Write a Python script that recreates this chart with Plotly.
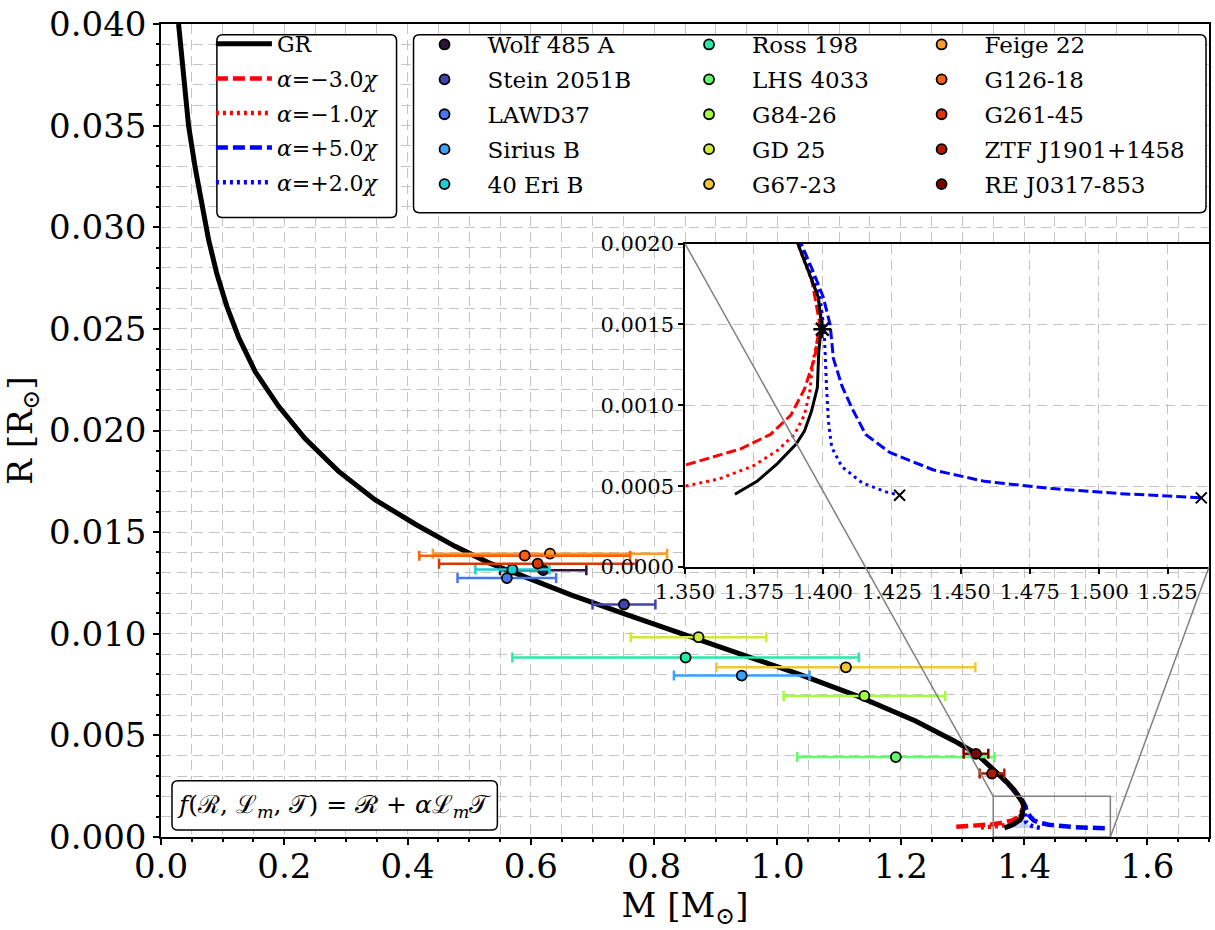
import plotly.graph_objects as go

# GR mass-radius curve (M in solar masses, R in solar radii)
gr_mass = [0.0285, 0.0366, 0.0447, 0.0556, 0.0664, 0.0771, 0.0907, 0.1069, 0.1257, 0.1527,
           0.1905, 0.2337, 0.2876, 0.347, 0.412, 0.477, 0.531, 0.573, 0.666, 0.759,
           0.852, 0.945, 1.038, 1.131, 1.224, 1.286, 1.323, 1.359, 1.372, 1.383,
           1.3909, 1.3946, 1.3983, 1.3995, 1.3985, 1.398, 1.3958, 1.3933, 1.3903, 1.3835,
           1.3761, 1.3681]
gr_radius = [0.0400, 0.0372, 0.0350, 0.0329, 0.0310, 0.0294, 0.0277, 0.0261, 0.0246, 0.0229,
             0.0212, 0.0196, 0.0180, 0.0166, 0.0154, 0.0143, 0.0135, 0.0130, 0.0119, 0.0109,
             0.0099, 0.00895, 0.00798, 0.00692, 0.00571, 0.00474, 0.00409, 0.00312, 0.0027, 0.00235,
             0.0020, 0.00183, 0.00167, 0.00150, 0.00133, 0.00111, 0.00096, 0.00084, 0.00076, 0.00064,
             0.00053, 0.00045]

# alpha = -3.0 chi
m_neg3 = [1.29, 1.32, 1.35, 1.370, 1.381, 1.3884, 1.3933, 1.397, 1.3989, 1.3976, 1.3958, 1.3909, 1.383, 1.372, 1.359]
r_neg3 = [0.0005, 0.00055, 0.00063, 0.00073, 0.00082, 0.00094, 0.0011, 0.00129, 0.0015, 0.00163, 0.00179, 0.0020, 0.00235, 0.0027, 0.00312]

# alpha = -1.0 chi
m_neg1 = [1.33, 1.35, 1.3626, 1.3749, 1.3835, 1.3897, 1.3933, 1.3952, 1.3964, 1.3983, 1.3995, 1.3983, 1.3946, 1.3909, 1.383, 1.372, 1.359]
r_neg1 = [0.00047, 0.0005, 0.000546, 0.000627, 0.00072, 0.00082, 0.00094, 0.00108, 0.00127, 0.00143, 0.0015, 0.00167, 0.00183, 0.0020, 0.00235, 0.0027, 0.00312]

# alpha = +5.0 chi
m_pos5 = [1.359, 1.372, 1.383, 1.3921, 1.3964, 1.4001, 1.4026, 1.4038, 1.4069, 1.4106, 1.4155, 1.4241, 1.4401, 1.4586, 1.4833, 1.5079, 1.5372]
r_pos5 = [0.00312, 0.0027, 0.00235, 0.0020, 0.00183, 0.00167, 0.0015, 0.00129, 0.00112, 0.00098, 0.00082, 0.00071, 0.0006, 0.00053, 0.000485, 0.000454, 0.000428]

# alpha = +2.0 chi
m_pos2 = [1.359, 1.372, 1.383, 1.3915, 1.3955, 1.3990, 1.4005, 1.4007, 1.4013, 1.402, 1.4032, 1.4069, 1.4143, 1.4229, 1.4278]
r_pos2 = [0.00312, 0.0027, 0.00235, 0.0020, 0.00183, 0.00167, 0.00145, 0.00133, 0.00112, 0.0009, 0.00074, 0.00062, 0.00052, 0.000465, 0.000444]

# maximum-mass markers
gr_max = (1.3998, 0.00147)
end_mass = [1.4278, 1.5372]
end_radius = [0.000444, 0.000428]

# observed white dwarfs
star_names = ["Wolf 485 A", "Stein 2051B", "LAWD37", "Sirius B", "40 Eri B",
              "Ross 198", "LHS 4033", "G84-26", "GD 25", "G67-23",
              "Feige 22", "G126-18", "G261-45", "ZTF J1901+1458", "RE J0317-853"]
star_mass = [0.620, 0.751, 0.561, 0.942, 0.570,
             0.851, 1.192, 1.141, 0.872, 1.111,
             0.631, 0.590, 0.611, 1.348, 1.322]
star_radius = [0.01313, 0.01144, 0.01274, 0.00794, 0.01316,
               0.00883, 0.00393, 0.00694, 0.00983, 0.00835,
               0.01394, 0.01384, 0.01345, 0.00312, 0.00409]
star_mass_err = [0.07, 0.051, 0.08, 0.11, 0.06,
                 0.281, 0.16, 0.131, 0.11, 0.21,
                 0.19, 0.171, 0.16, 0.02, 0.02]

turbo = ['#30123b', '#4145ab', '#4675ed', '#39a2fc', '#1bcfd4', '#24eca6', '#61fc6c', '#a4fc3b',
         '#d1e834', '#f3c63a', '#fe9b2d', '#f36315', '#d93806', '#b11901', '#7a0403']

FONT = "DejaVu Serif"
W, H = 1215, 930
# plot area in page pixels
PL, PR, PT, PB = 161, 1211, 14, 837
ML, MT, MR, MB = PL, PT, W - PR, H - PB
PW, PH = PR - PL, PB - PT

main_x = [0, 1.7]
main_y = [0, 0.0400001]
inset_x = [1.35, 1.54]
inset_y = [0, 0.0020000001]
inset_dom_x = [0.5, 1.0]
inset_dom_y = [0.332, 0.730]


def px2paper(X, Y):
    return (X - PL) / PW, (PB - Y) / PH


def rounded_box(X0, Y0, X1, Y1, r=6):
    def p(X, Y):
        a, b = px2paper(X, Y)
        return f"{a:.5f},{b:.5f}"
    path = (f"M{p(X0 + r, Y0)} L{p(X1 - r, Y0)} Q{p(X1, Y0)} {p(X1, Y0 + r)} "
            f"L{p(X1, Y1 - r)} Q{p(X1, Y1)} {p(X1 - r, Y1)} L{p(X0 + r, Y1)} "
            f"Q{p(X0, Y1)} {p(X0, Y1 - r)} L{p(X0, Y0 + r)} Q{p(X0, Y0)} {p(X0 + r, Y0)} Z")
    return dict(type="path", path=path, xref="paper", yref="paper", layer="above",
                fillcolor="white", line=dict(color="black", width=1.5))


fig = go.Figure()

# shaded region between GR lower branch and +2 chi branch
peak = gr_radius.index(0.00150)
fill_m = gr_mass[peak:] + m_pos2[::-1][:9]
fill_r = gr_radius[peak:] + r_pos2[::-1][:9]
fig.add_trace(go.Scatter(x=fill_m, y=fill_r, fill="toself", fillcolor="rgba(90,110,255,0.3)",
                         mode="lines", line=dict(width=0), showlegend=False, hoverinfo="skip"))

curves = [
    (m_neg3, r_neg3, "red", "12px,5px", "<i>α</i>=−3.0<i>χ</i>", 2),
    (m_neg1, r_neg1, "red", "3px,4px", "<i>α</i>=−1.0<i>χ</i>", 3),
    (m_pos5, r_pos5, "blue", "12px,5px", "<i>α</i>=+5.0<i>χ</i>", 4),
    (m_pos2, r_pos2, "blue", "3px,4px", "<i>α</i>=+2.0<i>χ</i>", 5),
]
for m, r, col, dash, name, rank in curves:
    fig.add_trace(go.Scatter(x=m, y=r, mode="lines", name=name, legendrank=rank,
                             legendgroup=name, line=dict(color=col, width=4.5, dash=dash)))

fig.add_trace(go.Scatter(x=gr_mass, y=gr_radius, mode="lines", name="GR", legendrank=1,
                         legendgroup="GR", line=dict(color="black", width=5)))

for i, name in enumerate(star_names):
    fig.add_trace(go.Scatter(
        x=[star_mass[i]], y=[star_radius[i]], mode="markers", name=name,
        legend=f"legend{2 + i // 5}", legendrank=i, legendgroup=name,
        error_x=dict(type="data", array=[star_mass_err[i]], color=turbo[i], thickness=2.5, width=5),
        marker=dict(color=turbo[i], size=10, line=dict(color="black", width=1.8))))

# inset traces
for m, r, col, dash, name, rank in curves:
    fig.add_trace(go.Scatter(x=m, y=r, mode="lines", showlegend=False, xaxis="x2", yaxis="y2",
                             line=dict(color=col, width=3, dash=dash.replace("12px,5px", "10px,4px"))))
fig.add_trace(go.Scatter(x=gr_mass, y=gr_radius, mode="lines", showlegend=False, xaxis="x2", yaxis="y2",
                         line=dict(color="black", width=3)))
fig.add_trace(go.Scatter(x=[gr_max[0]], y=[gr_max[1]], mode="markers", showlegend=False, xaxis="x2", yaxis="y2",
                         marker=dict(symbol="asterisk-open", size=15, color="black",
                                     line=dict(color="black", width=2.5))))
fig.add_trace(go.Scatter(x=end_mass, y=end_radius, mode="markers", showlegend=False, xaxis="x2", yaxis="y2",
                         marker=dict(symbol="x-thin-open", size=11, color="black",
                                     line=dict(color="black", width=2))))

grid = dict(showgrid=True, gridcolor="#c4c4c4", gridwidth=1.2, griddash="10px,6px")
axis_common = dict(showline=True, linecolor="black", linewidth=1.5, mirror=True, ticks="outside",
                   tickcolor="black", tickwidth=1.5, zeroline=False, color="black")

fig.update_layout(
    width=W, height=H, margin=dict(l=ML, r=MR, t=MT, b=MB),
    paper_bgcolor="white", plot_bgcolor="white",
    font=dict(family=FONT, color="black"),
    xaxis=dict(range=main_x, dtick=0.2, tickformat=".1f", ticklen=6, tickfont=dict(size=34),
               ticklabelstandoff=-8,
               title=dict(text="M [M<sub>⊙</sub>]", font=dict(size=34), standoff=8),
               minor=dict(dtick=0.05, ticks="outside", ticklen=3.5, tickcolor="black", **grid),
               **grid, **axis_common),
    yaxis=dict(range=main_y, dtick=0.005, tickformat=".3f", ticklen=6, tickfont=dict(size=34),
               ticklabeloverflow="allow",
               title=dict(text="R [R<sub>⊙</sub>]", font=dict(size=34), standoff=14),
               minor=dict(dtick=0.001, ticks="outside", ticklen=3.5, tickcolor="black", **grid),
               **grid, **axis_common),
    xaxis2=dict(domain=inset_dom_x, anchor="y2", range=inset_x, dtick=0.025, tickformat=".3f",
                ticklen=5, tickfont=dict(size=21), **grid, **axis_common),
    yaxis2=dict(domain=inset_dom_y, anchor="x2", range=inset_y, dtick=0.0005, tickformat=".4f",
                ticklen=5, tickfont=dict(size=21), **grid, **axis_common),
    legend=dict(x=px2paper(211, 0)[0], y=px2paper(0, 13)[1], xanchor="left", yanchor="top",
                bgcolor="rgba(0,0,0,0)", borderwidth=0, font=dict(size=22, family=FONT),
                tracegroupgap=3, itemwidth=56),
)
for k, X in zip((2, 3, 4), (402, 667, 900)):
    fig.update_layout({f"legend{k}": dict(x=px2paper(X, 0)[0], y=px2paper(0, 13)[1], xanchor="left",
                                          yanchor="top", bgcolor="rgba(0,0,0,0)", borderwidth=0,
                                          font=dict(size=23, family=FONT), tracegroupgap=2,
                                          itemwidth=76)})

# zoom rectangle, connectors and boxes
fig.add_shape(type="rect", xref="x", yref="y", x0=inset_x[0], x1=inset_x[1], y0=inset_y[0], y1=inset_y[1],
              line=dict(color="grey", width=1.5), layer="above")
sx = lambda v: (v - main_x[0]) / (main_x[1] - main_x[0])
sy = lambda v: (v - main_y[0]) / (main_y[1] - main_y[0])
fig.add_shape(type="line", xref="paper", yref="paper", x0=sx(inset_x[0]), y0=sy(inset_y[1]),
              x1=inset_dom_x[0], y1=inset_dom_y[1], line=dict(color="grey", width=1.5), layer="above")
fig.add_shape(type="line", xref="paper", yref="paper", x0=sx(inset_x[1]), y0=sy(inset_y[0]),
              x1=inset_dom_x[1], y1=inset_dom_y[0], line=dict(color="grey", width=1.5), layer="above")
fig.add_shape(rounded_box(217, 25, 397, 210))
fig.add_shape(rounded_box(414, 25, 1208, 205))
fig.add_shape(rounded_box(172, 780, 498, 830))

fig.add_annotation(xref="paper", yref="paper", x=px2paper(335, 0)[0], y=px2paper(0, 806)[1],
                   xanchor="center", yanchor="middle",
                   text="<i>f</i>(ℛ, ℒ<sub><i>m</i></sub>, 𝒯) = ℛ + <i>α</i>ℒ<sub><i>m</i></sub>𝒯",
                   showarrow=False, font=dict(size=25, family=FONT, color="black"))

fig.write_html("out.html", config={"displayModeBar": False},
               post_script="document.body.style.margin='0px';")
